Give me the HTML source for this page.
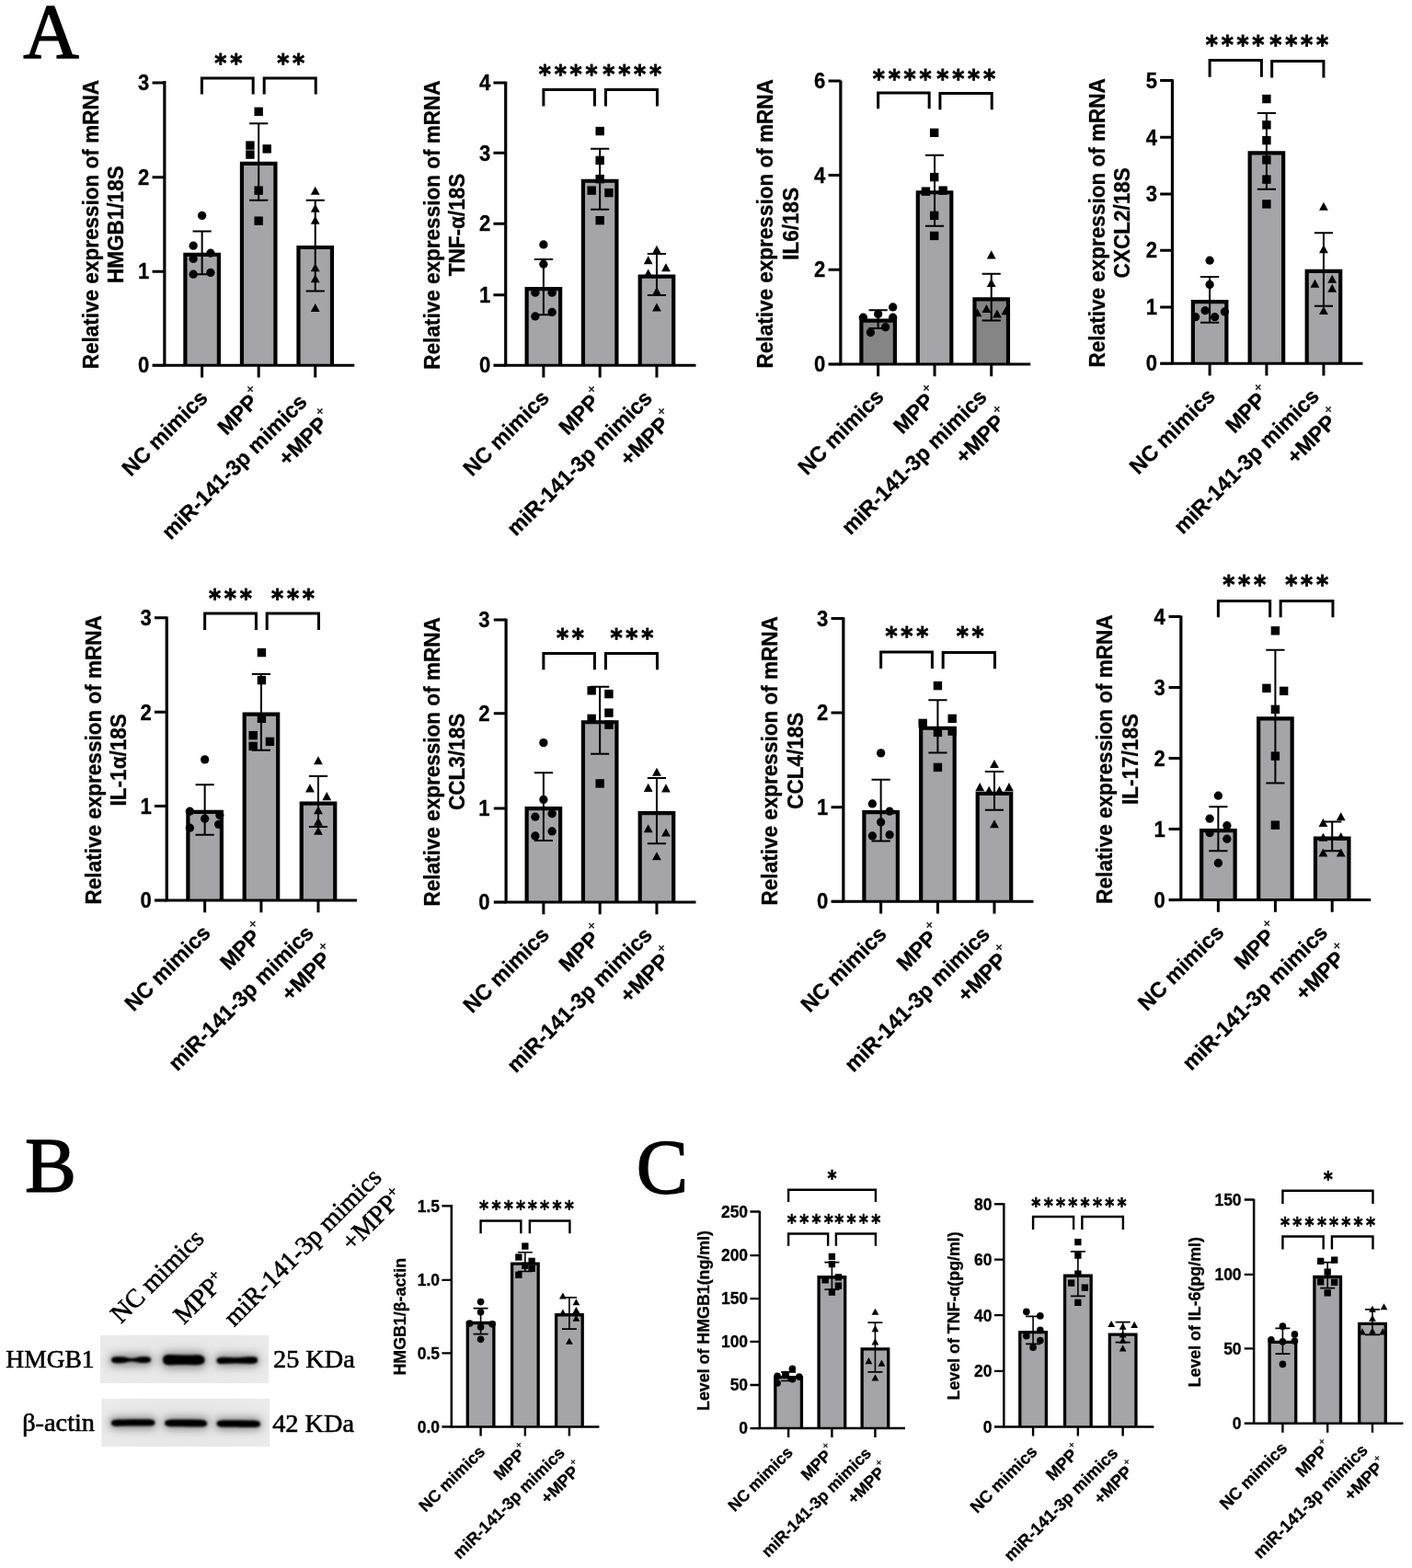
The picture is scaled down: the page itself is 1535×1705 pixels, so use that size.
<!DOCTYPE html>
<html lang="en">
<head>
<meta charset="utf-8">
<title>Figure: miR-141-3p mimics, MPP+ and inflammatory factors</title>
<style>
html,body{margin:0;padding:0;background:#fff}
body{width:1535px;height:1705px;overflow:hidden}
svg{display:block}
text{font-family:"Liberation Sans",Arial,Helvetica,sans-serif;font-weight:bold;fill:#000}
.big text{font-size:22.9px}
.small text{font-size:17.3px}
.bar{stroke:#000}
.big .bar{stroke-width:4.2}
.small .bar{stroke-width:3.3}
.ax,.tk,.er,.br{fill:none;stroke:#000}
.big .ax{stroke-width:3.2}.small .ax{stroke-width:2.5}
.big .tk{stroke-width:3.0}.small .tk{stroke-width:2.4}
.big .er{stroke-width:2.0}.small .er{stroke-width:1.6}
.big .br{stroke-width:3.0}.small .br{stroke-width:2.4}
.tl{text-anchor:end}
.yl{text-anchor:middle}
.xl{text-anchor:end}
.chart text.stx{font-family:"DejaVu Sans","Liberation Sans",sans-serif;text-anchor:middle}
.big text.stx{font-size:25.5px;letter-spacing:3.8px}
.small text.stx{font-size:19.5px;letter-spacing:3.35px}
.chart .sp{font-weight:normal}
.big .sp{font-size:14.5px}
.small .sp{font-size:11px}
text.pl{font-family:"Liberation Serif","Times New Roman",serif;font-size:84px;font-weight:normal;stroke:#000;stroke-width:1.4px;stroke-linejoin:round}
text.plc{font-size:84.5px}
.wb text{font-family:"Liberation Serif","Times New Roman",serif;font-weight:normal}
.wb text{stroke:#000;stroke-width:.6px}
.wb .wl{font-size:27.5px}
.wb .wl2{font-size:28.3px}
.wb .wr{font-size:28.3px}
.wb .ws{font-size:17px}
.big text.xl{font-size:23.6px}
.small text.xl{font-size:18.0px}
.big text.tl{font-size:23.0px}
.small text.tl{font-size:17.8px}
.big text.yl{font-size:23.2px}
.small text.yl{font-size:18.0px}
.chart text{stroke:#000;stroke-width:.3px}
.chart text.stx{stroke-width:.8px}
.small text.stx{stroke-width:.55px}
</style>
</head>
<body>
<svg xmlns="http://www.w3.org/2000/svg" width="1535" height="1705" viewBox="0 0 1535 1705">
<rect width="1535" height="1705" fill="#fff"/>
<g class="chart big" id="c1">
<path class="bar" d="M201.39 397.26V276.78H237.89V397.26" fill="#a5a4a8"/>
<path class="bar" d="M262.93 397.26V177.96H299.43V397.26" fill="#a5a4a8"/>
<path class="bar" d="M324.47 397.26V269.02H360.97V397.26" fill="#a5a4a8"/>
<path class="ax" d="M178.87 88.06V397.26H385.25"/>
<path class="ax" d="M165.57 397.26H178.87"/>
<path class="tk" d="M165.57 90.06H178.87M165.57 192.63H178.87M165.57 295.19H178.87"/>
<path class="tk" d="M219.64 397.26V410.46M281.18 397.26V410.46M342.72 397.26V410.46"/>
<text class="tl" transform="translate(162.37 98.29) scale(0.96 1)">3</text>
<text class="tl" transform="translate(162.37 200.86) scale(0.96 1)">2</text>
<text class="tl" transform="translate(162.37 303.43) scale(0.96 1)">1</text>
<text class="tl" transform="translate(162.37 405.49) scale(0.96 1)">0</text>
<path class="er" d="M209.54 251.41H229.74M209.54 298.19H229.74M219.64 251.41V298.19M271.08 134.34H291.28M271.08 217.64H291.28M281.18 134.34V217.64M332.62 217.64H352.82M332.62 316.46H352.82M342.72 217.64V316.46"/>
<circle cx="219.64" cy="234.4" r="4.65"/>
<circle cx="210.14" cy="267.17" r="4.65"/>
<circle cx="228.9" cy="275.18" r="4.65"/>
<circle cx="210.14" cy="281.43" r="4.65"/>
<circle cx="210.14" cy="298.19" r="4.65"/>
<circle cx="228.9" cy="296.44" r="4.65"/>
<rect x="276.48" y="116.63" width="9.4" height="9.4"/>
<rect x="267.23" y="153.4" width="9.4" height="9.4"/>
<rect x="285.49" y="157.16" width="9.4" height="9.4"/>
<rect x="267.23" y="163.41" width="9.4" height="9.4"/>
<rect x="276.48" y="202.43" width="9.4" height="9.4"/>
<rect x="276.48" y="235.46" width="9.4" height="9.4"/>
<path d="M342.72 202.83L347.62 211.84H337.82Z"/>
<path d="M342.72 221.84L347.62 230.86H337.82Z"/>
<path d="M342.72 234.85L347.62 243.86H337.82Z"/>
<path d="M342.72 286.13L347.62 295.15H337.82Z"/>
<path d="M342.72 298.14L347.62 307.16H337.82Z"/>
<path d="M342.72 329.91L347.62 338.93H337.82Z"/>
<path class="br" d="M219.39 102.57V85.06H275.18V102.57M287.19 102.57V85.06H343.22V102.57"/>
<text class="stx" transform="translate(250.16 78.08) scale(0.985 1.05)">**</text>
<text class="stx" transform="translate(318.08 78.08) scale(0.985 1.05)">**</text>
<text class="yl" transform="translate(107.07 244.16) rotate(-90) scale(0.972 1)">Relative expression of mRNA</text>
<text class="yl" transform="translate(134.47 244.16) rotate(-90) scale(0.972 1)">HMGB1/18S</text>
<text class="xl" transform="translate(227.04 434.06) rotate(-45) scale(0.985 1)">NC mimics</text>
<text class="xl" transform="translate(287.68 432.66) rotate(-45) scale(0.985 1)">MPP<tspan class="sp" dy="-13">+</tspan></text>
<text class="xl" transform="translate(335.22 438.36) rotate(-45) scale(0.985 1)">miR-141-3p mimics</text>
<text class="xl" transform="translate(363.32 456.86) rotate(-45) scale(0.985 1)">+MPP<tspan class="sp" dy="-13">+</tspan></text>
</g>
<g class="chart big" id="c2">
<path class="bar" d="M572.62 397.26V314.05H609.12V397.26" fill="#a5a4a8"/>
<path class="bar" d="M633.91 397.26V196.73H670.41V397.26" fill="#a5a4a8"/>
<path class="bar" d="M695.7 397.26V300.54H732.2V397.26" fill="#a5a4a8"/>
<path class="ax" d="M549.72 88.81V397.26H756.48"/>
<path class="ax" d="M536.42 397.26H549.72"/>
<path class="tk" d="M536.42 90.06H549.72M536.42 166.36H549.72M536.42 243.16H549.72M536.42 320.71H549.72"/>
<path class="tk" d="M590.87 397.26V410.46M652.16 397.26V410.46M713.95 397.26V410.46"/>
<text class="tl" transform="translate(533.22 98.29) scale(0.96 1)">4</text>
<text class="tl" transform="translate(533.22 174.59) scale(0.96 1)">3</text>
<text class="tl" transform="translate(533.22 251.39) scale(0.96 1)">2</text>
<text class="tl" transform="translate(533.22 328.94) scale(0.96 1)">1</text>
<text class="tl" transform="translate(533.22 405.49) scale(0.96 1)">0</text>
<path class="er" d="M580.77 281.93H600.97M580.77 342.22H600.97M590.87 281.93V342.22M642.06 161.86H662.26M642.06 227.65H662.26M652.16 161.86V227.65M703.85 275.93H724.05M703.85 320.96H724.05M713.95 275.93V320.96"/>
<circle cx="590.87" cy="265.92" r="4.65"/>
<circle cx="590.87" cy="287.19" r="4.65"/>
<circle cx="581.87" cy="318.21" r="4.65"/>
<circle cx="600.13" cy="318.21" r="4.65"/>
<circle cx="581.87" cy="343.97" r="4.65"/>
<circle cx="600.13" cy="339.47" r="4.65"/>
<rect x="647.46" y="137.89" width="9.4" height="9.4"/>
<rect x="647.46" y="169.66" width="9.4" height="9.4"/>
<rect x="647.46" y="189.93" width="9.4" height="9.4"/>
<rect x="638.46" y="202.43" width="9.4" height="9.4"/>
<rect x="657.22" y="204.94" width="9.4" height="9.4"/>
<rect x="647.46" y="234.96" width="9.4" height="9.4"/>
<path d="M713.95 266.87L718.85 275.89H709.05Z"/>
<path d="M704.7 278.13L709.6 287.14H699.8Z"/>
<path d="M723.96 286.13L728.86 295.15H719.06Z"/>
<path d="M704.7 292.39L709.6 301.4H699.8Z"/>
<path d="M713.95 311.9L718.85 320.91H709.05Z"/>
<path d="M713.95 329.41L718.85 338.43H709.05Z"/>
<path class="br" d="M590.87 115.58V97.44H646.41V115.58M658.42 115.58V97.44H714.45V115.58"/>
<text class="stx" transform="translate(619.51 89.59) scale(0.985 1.05)">****</text>
<text class="stx" transform="translate(689.06 89.59) scale(0.985 1.05)">****</text>
<text class="yl" transform="translate(477.92 244.53) rotate(-90) scale(0.972 1)">Relative expression of mRNA</text>
<text class="yl" transform="translate(505.32 244.53) rotate(-90) scale(0.972 1)">TNF-α/18S</text>
<text class="xl" transform="translate(598.27 434.06) rotate(-45) scale(0.985 1)">NC mimics</text>
<text class="xl" transform="translate(658.66 432.66) rotate(-45) scale(0.985 1)">MPP<tspan class="sp" dy="-13">+</tspan></text>
<text class="xl" transform="translate(710.45 434.36) rotate(-45) scale(0.985 1)">miR-141-3p mimics</text>
<text class="xl" transform="translate(734.55 456.86) rotate(-45) scale(0.985 1)">+MPP<tspan class="sp" dy="-13">+</tspan></text>
</g>
<g class="chart big" id="c3">
<path class="bar" d="M936.38 396.01V348.58H972.88V396.01" fill="#858585"/>
<path class="bar" d="M997.79 396.01V209.23H1034.29V396.01" fill="#a5a4a8"/>
<path class="bar" d="M1059.46 396.01V325.31H1095.96V396.01" fill="#858585"/>
<path class="ax" d="M913.85 87.56V396.01H1120.23"/>
<path class="ax" d="M900.55 396.01H913.85"/>
<path class="tk" d="M900.55 88.06H913.85M900.55 190.62H913.85M900.55 293.19H913.85"/>
<path class="tk" d="M954.63 396.01V409.21M1016.04 396.01V409.21M1077.71 396.01V409.21"/>
<text class="tl" transform="translate(897.35 96.29) scale(0.96 1)">6</text>
<text class="tl" transform="translate(897.35 198.86) scale(0.96 1)">4</text>
<text class="tl" transform="translate(897.35 301.42) scale(0.96 1)">2</text>
<text class="tl" transform="translate(897.35 404.24) scale(0.96 1)">0</text>
<path class="er" d="M944.53 337.22H964.73M944.53 356.98H964.73M954.63 337.22V356.98M1005.94 168.86H1026.14M1005.94 245.66H1026.14M1016.04 168.86V245.66M1067.61 297.69H1087.81M1067.61 348.48H1087.81M1077.71 297.69V348.48"/>
<circle cx="970.64" cy="333.97" r="4.65"/>
<circle cx="954.63" cy="341.47" r="4.65"/>
<circle cx="938.37" cy="345.22" r="4.65"/>
<circle cx="970.64" cy="345.22" r="4.65"/>
<circle cx="962.63" cy="355.73" r="4.65"/>
<circle cx="946.37" cy="361.49" r="4.65"/>
<rect x="1010.97" y="139.64" width="9.4" height="9.4"/>
<rect x="1010.97" y="187.93" width="9.4" height="9.4"/>
<rect x="1001.71" y="203.44" width="9.4" height="9.4"/>
<rect x="1020.47" y="202.43" width="9.4" height="9.4"/>
<rect x="1010.97" y="229.7" width="9.4" height="9.4"/>
<rect x="1010.97" y="251.72" width="9.4" height="9.4"/>
<path d="M1077.71 272.37L1082.61 281.39H1072.81Z"/>
<path d="M1077.71 302.89L1082.61 311.91H1072.81Z"/>
<path d="M1072.45 330.91L1077.35 339.93H1067.55Z"/>
<path d="M1083.96 336.41L1088.86 345.43H1079.06Z"/>
<path d="M1062.45 335.16L1067.35 344.18H1057.55Z"/>
<path d="M1093.47 333.16L1098.37 342.18H1088.57Z"/>
<path class="br" d="M954.63 118.33V101.07H1010.16V118.33M1021.92 119.33V101.57H1078.21V119.33"/>
<text class="stx" transform="translate(982.52 95.34) scale(0.985 1.05)">****</text>
<text class="stx" transform="translate(1052.06 95.34) scale(0.985 1.05)">****</text>
<text class="yl" transform="translate(840.45 243.28) rotate(-90) scale(0.972 1)">Relative expression of mRNA</text>
<text class="yl" transform="translate(867.85 243.28) rotate(-90) scale(0.972 1)">IL6/18S</text>
<text class="xl" transform="translate(962.03 432.81) rotate(-45) scale(0.985 1)">NC mimics</text>
<text class="xl" transform="translate(1022.54 431.41) rotate(-45) scale(0.985 1)">MPP<tspan class="sp" dy="-13">+</tspan></text>
<text class="xl" transform="translate(1074.21 433.11) rotate(-45) scale(0.985 1)">miR-141-3p mimics</text>
<text class="xl" transform="translate(1099.31 454.61) rotate(-45) scale(0.985 1)">+MPP<tspan class="sp" dy="-13">+</tspan></text>
</g>
<g class="chart big" id="c4">
<path class="bar" d="M1296.86 395.26V328.06H1333.36V395.26" fill="#a5a4a8"/>
<path class="bar" d="M1358.65 395.26V166.46H1395.15V395.26" fill="#a5a4a8"/>
<path class="bar" d="M1420.69 395.26V294.79H1457.19V395.26" fill="#a5a4a8"/>
<path class="ax" d="M1274.46 86.31V395.26H1481.47"/>
<path class="ax" d="M1261.16 395.26H1274.46"/>
<path class="tk" d="M1261.16 87.56H1274.46M1261.16 149.35H1274.46M1261.16 210.89H1274.46M1261.16 272.18H1274.46M1261.16 333.97H1274.46"/>
<path class="tk" d="M1315.11 395.26V408.46M1376.9 395.26V408.46M1438.94 395.26V408.46"/>
<text class="tl" transform="translate(1257.96 95.79) scale(0.96 1)">5</text>
<text class="tl" transform="translate(1257.96 157.58) scale(0.96 1)">4</text>
<text class="tl" transform="translate(1257.96 219.12) scale(0.96 1)">3</text>
<text class="tl" transform="translate(1257.96 280.41) scale(0.96 1)">2</text>
<text class="tl" transform="translate(1257.96 342.2) scale(0.96 1)">1</text>
<text class="tl" transform="translate(1257.96 403.49) scale(0.96 1)">0</text>
<path class="er" d="M1305.01 300.95H1325.21M1305.01 350.73H1325.21M1315.11 300.95V350.73M1366.8 123.08H1387M1366.8 205.63H1387M1376.9 123.08V205.63M1428.84 253.16H1449.04M1428.84 332.72H1449.04M1438.94 253.16V332.72"/>
<circle cx="1315.11" cy="283.18" r="4.65"/>
<circle cx="1315.11" cy="309.45" r="4.65"/>
<circle cx="1310.11" cy="337.72" r="4.65"/>
<circle cx="1331.37" cy="338.97" r="4.65"/>
<circle cx="1299.6" cy="344.72" r="4.65"/>
<circle cx="1320.62" cy="344.72" r="4.65"/>
<rect x="1372.2" y="102.87" width="9.4" height="9.4"/>
<rect x="1372.2" y="131.14" width="9.4" height="9.4"/>
<rect x="1372.2" y="147.9" width="9.4" height="9.4"/>
<rect x="1372.2" y="169.16" width="9.4" height="9.4"/>
<rect x="1372.2" y="190.43" width="9.4" height="9.4"/>
<rect x="1372.2" y="217.19" width="9.4" height="9.4"/>
<path d="M1438.94 219.84L1443.84 228.85H1434.04Z"/>
<path d="M1438.94 266.12L1443.84 275.13H1434.04Z"/>
<path d="M1448.2 298.64L1453.1 307.66H1443.3Z"/>
<path d="M1429.44 303.64L1434.34 312.66H1424.54Z"/>
<path d="M1448.2 308.65L1453.1 317.66H1443.3Z"/>
<path d="M1438.94 332.91L1443.84 341.93H1434.04Z"/>
<path class="br" d="M1315.11 83.8V65.54H1371.4V83.8M1382.66 84.56V66.54H1438.94V84.56"/>
<text class="stx" transform="translate(1344.5 58.32) scale(0.985 1.05)">****</text>
<text class="stx" transform="translate(1414.05 58.32) scale(0.985 1.05)">****</text>
<text class="yl" transform="translate(1200.66 242.28) rotate(-90) scale(0.972 1)">Relative expression of mRNA</text>
<text class="yl" transform="translate(1228.06 242.28) rotate(-90) scale(0.972 1)">CXCL2/18S</text>
<text class="xl" transform="translate(1322.51 432.06) rotate(-45) scale(0.985 1)">NC mimics</text>
<text class="xl" transform="translate(1383.4 430.66) rotate(-45) scale(0.985 1)">MPP<tspan class="sp" dy="-13">+</tspan></text>
<text class="xl" transform="translate(1435.44 432.36) rotate(-45) scale(0.985 1)">miR-141-3p mimics</text>
<text class="xl" transform="translate(1459.54 454.86) rotate(-45) scale(0.985 1)">+MPP<tspan class="sp" dy="-13">+</tspan></text>
</g>
<g class="chart big" id="c5">
<path class="bar" d="M204.39 979V882.79H240.89V979" fill="#a5a4a8"/>
<path class="bar" d="M265.68 979V776.72H302.18V979" fill="#a5a4a8"/>
<path class="bar" d="M327.73 979V873.53H364.23V979" fill="#a5a4a8"/>
<path class="ax" d="M181.24 670.55V979H388"/>
<path class="ax" d="M167.94 979H181.24"/>
<path class="tk" d="M167.94 671.8H181.24M167.94 774.37H181.24M167.94 876.44H181.24"/>
<path class="tk" d="M222.64 979V992.2M283.93 979V992.2M345.98 979V992.2"/>
<text class="tl" transform="translate(164.74 680.04) scale(0.96 1)">3</text>
<text class="tl" transform="translate(164.74 782.6) scale(0.96 1)">2</text>
<text class="tl" transform="translate(164.74 884.67) scale(0.96 1)">1</text>
<text class="tl" transform="translate(164.74 987.24) scale(0.96 1)">0</text>
<path class="er" d="M212.54 853.17H232.74M212.54 907.71H232.74M222.64 853.17V907.71M273.83 733.09H294.03M273.83 815.65H294.03M283.93 733.09V815.65M335.88 843.92H356.08M335.88 898.95H356.08M345.98 843.92V898.95"/>
<circle cx="222.64" cy="825.9" r="4.65"/>
<circle cx="206.38" cy="882.19" r="4.65"/>
<circle cx="222.64" cy="890.2" r="4.65"/>
<circle cx="238.91" cy="886.44" r="4.65"/>
<circle cx="206.38" cy="900.2" r="4.65"/>
<circle cx="237.65" cy="896.45" r="4.65"/>
<rect x="279.74" y="704.88" width="9.4" height="9.4"/>
<rect x="279.74" y="734.9" width="9.4" height="9.4"/>
<rect x="279.74" y="776.67" width="9.4" height="9.4"/>
<rect x="270.48" y="794.94" width="9.4" height="9.4"/>
<rect x="288.74" y="801.69" width="9.4" height="9.4"/>
<rect x="270.48" y="806.69" width="9.4" height="9.4"/>
<path d="M345.98 822.35L350.88 831.36H341.08Z"/>
<path d="M336.97 852.37L341.87 861.38H332.07Z"/>
<path d="M355.23 861.12L360.13 870.14H350.33Z"/>
<path d="M345.98 876.13L350.88 885.15H341.08Z"/>
<path d="M345.98 888.64L350.88 897.66H341.08Z"/>
<path d="M345.98 898.65L350.88 907.66H341.08Z"/>
<path class="br" d="M222.64 685.06V667.05H278.43V685.06M290.19 685.06V667.05H346.48V685.06"/>
<text class="stx" transform="translate(252.28 660.08) scale(0.985 1.05)">***</text>
<text class="stx" transform="translate(320.33 660.08) scale(0.985 1.05)">***</text>
<text class="yl" transform="translate(110.04 826.28) rotate(-90) scale(0.972 1)">Relative expression of mRNA</text>
<text class="yl" transform="translate(137.44 826.28) rotate(-90) scale(0.972 1)">IL-1α/18S</text>
<text class="xl" transform="translate(230.04 1015.8) rotate(-45) scale(0.985 1)">NC mimics</text>
<text class="xl" transform="translate(290.43 1014.4) rotate(-45) scale(0.985 1)">MPP<tspan class="sp" dy="-13">+</tspan></text>
<text class="xl" transform="translate(342.48 1016.1) rotate(-45) scale(0.985 1)">miR-141-3p mimics</text>
<text class="xl" transform="translate(366.58 1038.6) rotate(-45) scale(0.985 1)">+MPP<tspan class="sp" dy="-13">+</tspan></text>
</g>
<g class="chart big" id="c6">
<path class="bar" d="M572.62 981V879.04H609.12V981" fill="#a5a4a8"/>
<path class="bar" d="M633.91 981V785.23H670.41V981" fill="#a5a4a8"/>
<path class="bar" d="M695.7 981V884.04H732.2V981" fill="#a5a4a8"/>
<path class="ax" d="M550.1 672.8V981H756.48"/>
<path class="ax" d="M536.8 981H550.1"/>
<path class="tk" d="M536.8 674.05H550.1M536.8 775.87H550.1M536.8 878.94H550.1"/>
<path class="tk" d="M590.87 981V994.2M652.16 981V994.2M713.95 981V994.2"/>
<text class="tl" transform="translate(532.6 682.29) scale(0.96 1)">3</text>
<text class="tl" transform="translate(532.6 784.11) scale(0.96 1)">2</text>
<text class="tl" transform="translate(532.6 887.17) scale(0.96 1)">1</text>
<text class="tl" transform="translate(532.6 989.24) scale(0.96 1)">0</text>
<path class="er" d="M580.77 840.16H600.97M580.77 913.96H600.97M590.87 840.16V913.96M642.06 746.85H662.26M642.06 819.65H662.26M652.16 746.85V819.65M703.85 845.92H724.05M703.85 917.21H724.05M713.95 845.92V917.21"/>
<circle cx="590.87" cy="807.64" r="4.65"/>
<circle cx="590.87" cy="869.43" r="4.65"/>
<circle cx="600.13" cy="884.69" r="4.65"/>
<circle cx="581.87" cy="888.19" r="4.65"/>
<circle cx="600.13" cy="903.95" r="4.65"/>
<circle cx="581.87" cy="908.96" r="4.65"/>
<rect x="638.46" y="746.15" width="9.4" height="9.4"/>
<rect x="657.22" y="749.91" width="9.4" height="9.4"/>
<rect x="657.22" y="770.42" width="9.4" height="9.4"/>
<rect x="638.46" y="776.67" width="9.4" height="9.4"/>
<rect x="657.22" y="783.43" width="9.4" height="9.4"/>
<rect x="647.46" y="847.22" width="9.4" height="9.4"/>
<path d="M713.95 834.85L718.85 843.87H709.05Z"/>
<path d="M704.7 851.87L709.6 860.88H699.8Z"/>
<path d="M723.96 852.37L728.86 861.38H719.06Z"/>
<path d="M704.7 896.14L709.6 905.16H699.8Z"/>
<path d="M723.96 900.4L728.86 909.41H719.06Z"/>
<path d="M713.95 926.16L718.85 935.18H709.05Z"/>
<path class="br" d="M590.87 728.34V710.58H646.41V728.34M658.42 728.34V710.58H714.45V728.34"/>
<text class="stx" transform="translate(621.76 702.73) scale(0.985 1.05)">**</text>
<text class="stx" transform="translate(688.81 702.73) scale(0.985 1.05)">***</text>
<text class="yl" transform="translate(477.95 828.4) rotate(-90) scale(0.972 1)">Relative expression of mRNA</text>
<text class="yl" transform="translate(505.35 828.4) rotate(-90) scale(0.972 1)">CCL3/18S</text>
<text class="xl" transform="translate(598.27 1017.8) rotate(-45) scale(0.985 1)">NC mimics</text>
<text class="xl" transform="translate(658.66 1016.4) rotate(-45) scale(0.985 1)">MPP<tspan class="sp" dy="-13">+</tspan></text>
<text class="xl" transform="translate(710.45 1018.1) rotate(-45) scale(0.985 1)">miR-141-3p mimics</text>
<text class="xl" transform="translate(734.55 1040.6) rotate(-45) scale(0.985 1)">+MPP<tspan class="sp" dy="-13">+</tspan></text>
</g>
<g class="chart big" id="c7">
<path class="bar" d="M939.38 980.25V883.04H975.88V980.25" fill="#a5a4a8"/>
<path class="bar" d="M1001.17 980.25V791.73H1037.67V980.25" fill="#a5a4a8"/>
<path class="bar" d="M1062.71 980.25V862.78H1099.21V980.25" fill="#a5a4a8"/>
<path class="ax" d="M916.85 671.3V980.25H1123.49"/>
<path class="ax" d="M903.55 980.25H916.85"/>
<path class="tk" d="M903.55 672.55H916.85M903.55 775.12H916.85M903.55 877.69H916.85"/>
<path class="tk" d="M957.63 980.25V993.45M1019.42 980.25V993.45M1080.96 980.25V993.45"/>
<text class="tl" transform="translate(900.35 680.79) scale(0.96 1)">3</text>
<text class="tl" transform="translate(900.35 783.35) scale(0.96 1)">2</text>
<text class="tl" transform="translate(900.35 885.92) scale(0.96 1)">1</text>
<text class="tl" transform="translate(900.35 988.49) scale(0.96 1)">0</text>
<path class="er" d="M947.53 847.67H967.73M947.53 914.46H967.73M957.63 847.67V914.46M1009.32 761.36H1029.52M1009.32 818.4H1029.52M1019.42 761.36V818.4M1070.86 838.91H1091.06M1070.86 880.69H1091.06M1080.96 838.91V880.69"/>
<circle cx="957.63" cy="818.9" r="4.65"/>
<circle cx="948.37" cy="873.93" r="4.65"/>
<circle cx="967.13" cy="882.19" r="4.65"/>
<circle cx="957.63" cy="893.95" r="4.65"/>
<circle cx="948.37" cy="908.96" r="4.65"/>
<circle cx="967.13" cy="907.71" r="4.65"/>
<rect x="1014.72" y="740.9" width="9.4" height="9.4"/>
<rect x="1030.48" y="776.67" width="9.4" height="9.4"/>
<rect x="998.46" y="781.68" width="9.4" height="9.4"/>
<rect x="1014.72" y="791.68" width="9.4" height="9.4"/>
<rect x="1030.48" y="790.43" width="9.4" height="9.4"/>
<rect x="1014.72" y="829.71" width="9.4" height="9.4"/>
<path d="M1080.96 826.1L1085.86 835.12H1076.06Z"/>
<path d="M1065.2 851.12L1070.1 860.13H1060.3Z"/>
<path d="M1096.97 851.12L1101.87 860.13H1092.07Z"/>
<path d="M1075.21 854.87L1080.11 863.88H1070.31Z"/>
<path d="M1086.46 854.87L1091.36 863.88H1081.56Z"/>
<path d="M1080.96 891.14L1085.86 900.16H1076.06Z"/>
<path class="br" d="M957.63 727.09V709.08H1013.41V727.09M1025.17 727.34V709.58H1081.46V727.34"/>
<text class="stx" transform="translate(987.77 701.23) scale(0.985 1.05)">***</text>
<text class="stx" transform="translate(1056.56 701.23) scale(0.985 1.05)">**</text>
<text class="yl" transform="translate(845.45 827.28) rotate(-90) scale(0.972 1)">Relative expression of mRNA</text>
<text class="yl" transform="translate(872.85 827.28) rotate(-90) scale(0.972 1)">CCL4/18S</text>
<text class="xl" transform="translate(965.03 1017.05) rotate(-45) scale(0.985 1)">NC mimics</text>
<text class="xl" transform="translate(1025.92 1015.65) rotate(-45) scale(0.985 1)">MPP<tspan class="sp" dy="-13">+</tspan></text>
<text class="xl" transform="translate(1077.46 1017.35) rotate(-45) scale(0.985 1)">miR-141-3p mimics</text>
<text class="xl" transform="translate(1101.56 1039.85) rotate(-45) scale(0.985 1)">+MPP<tspan class="sp" dy="-13">+</tspan></text>
</g>
<g class="chart big" id="c8">
<path class="bar" d="M1306.12 978.5V903.05H1342.62V978.5" fill="#a5a4a8"/>
<path class="bar" d="M1368.16 978.5V781.47H1404.66V978.5" fill="#a5a4a8"/>
<path class="bar" d="M1429.95 978.5V911.56H1466.45V978.5" fill="#a5a4a8"/>
<path class="ax" d="M1283.84 669.55V978.5H1490.23"/>
<path class="ax" d="M1270.54 978.5H1283.84"/>
<path class="tk" d="M1270.54 670.55H1283.84M1270.54 747.6H1283.84M1270.54 824.4H1283.84M1270.54 901.45H1283.84"/>
<path class="tk" d="M1324.37 978.5V991.7M1386.41 978.5V991.7M1448.2 978.5V991.7"/>
<text class="tl" transform="translate(1266.74 678.79) scale(0.96 1)">4</text>
<text class="tl" transform="translate(1266.74 755.84) scale(0.96 1)">3</text>
<text class="tl" transform="translate(1266.74 832.64) scale(0.96 1)">2</text>
<text class="tl" transform="translate(1266.74 909.69) scale(0.96 1)">1</text>
<text class="tl" transform="translate(1266.74 986.74) scale(0.96 1)">0</text>
<path class="er" d="M1314.27 877.19H1334.47M1314.27 925.22H1334.47M1324.37 877.19V925.22M1376.31 706.83H1396.51M1376.31 851.42H1396.51M1386.41 706.83V851.42M1438.1 893.45H1458.3M1438.1 925.22H1458.3M1448.2 893.45V925.22"/>
<circle cx="1324.37" cy="865.18" r="4.65"/>
<circle cx="1315.11" cy="890.2" r="4.65"/>
<circle cx="1333.88" cy="897.7" r="4.65"/>
<circle cx="1315.11" cy="905.71" r="4.65"/>
<circle cx="1333.88" cy="912.21" r="4.65"/>
<circle cx="1324.37" cy="938.48" r="4.65"/>
<rect x="1381.71" y="681.11" width="9.4" height="9.4"/>
<rect x="1372.2" y="743.65" width="9.4" height="9.4"/>
<rect x="1390.97" y="746.66" width="9.4" height="9.4"/>
<rect x="1381.71" y="766.67" width="9.4" height="9.4"/>
<rect x="1381.71" y="817.45" width="9.4" height="9.4"/>
<rect x="1381.71" y="892.5" width="9.4" height="9.4"/>
<path d="M1457.71 883.14L1462.61 892.15H1452.81Z"/>
<path d="M1438.44 889.89L1443.34 898.91H1433.54Z"/>
<path d="M1438.44 905.65L1443.34 914.67H1433.54Z"/>
<path d="M1457.71 904.9L1462.61 913.92H1452.81Z"/>
<path d="M1438.44 922.41L1443.34 931.43H1433.54Z"/>
<path d="M1457.71 922.41L1462.61 931.43H1452.81Z"/>
<path class="br" d="M1324.37 671.3V653.54H1380.66V671.3M1392.16 671.3V653.54H1448.95V671.3"/>
<text class="stx" transform="translate(1354.51 645.32) scale(0.985 1.05)">***</text>
<text class="stx" transform="translate(1422.55 645.32) scale(0.985 1.05)">***</text>
<text class="yl" transform="translate(1209.44 825.53) rotate(-90) scale(0.972 1)">Relative expression of mRNA</text>
<text class="yl" transform="translate(1236.84 825.53) rotate(-90) scale(0.972 1)">IL-17/18S</text>
<text class="xl" transform="translate(1331.77 1015.3) rotate(-45) scale(0.985 1)">NC mimics</text>
<text class="xl" transform="translate(1392.91 1013.9) rotate(-45) scale(0.985 1)">MPP<tspan class="sp" dy="-13">+</tspan></text>
<text class="xl" transform="translate(1444.7 1015.6) rotate(-45) scale(0.985 1)">miR-141-3p mimics</text>
<text class="xl" transform="translate(1468.8 1038.1) rotate(-45) scale(0.985 1)">+MPP<tspan class="sp" dy="-13">+</tspan></text>
</g>
<g class="chart small" id="c9">
<path class="bar" d="M508.28 1551.43V1438.51H536.88V1551.43" fill="#a5a4a8"/>
<path class="bar" d="M556.56 1551.43V1374.22H585.16V1551.43" fill="#a5a4a8"/>
<path class="bar" d="M604.59 1551.43V1429.75H633.19V1551.43" fill="#a5a4a8"/>
<path class="ax" d="M490.81 1310.03V1551.43H651.41"/>
<path class="ax" d="M480.41 1551.43H490.81"/>
<path class="tk" d="M480.41 1311.28H490.81M480.41 1391.83H490.81M480.41 1471.38H490.81"/>
<path class="tk" d="M522.58 1551.43V1561.43M570.86 1551.43V1561.43M618.89 1551.43V1561.43"/>
<text class="tl" transform="translate(478.01 1317.65) scale(0.98 1)">1.5</text>
<text class="tl" transform="translate(478.01 1398.2) scale(0.98 1)">1.0</text>
<text class="tl" transform="translate(478.01 1477.75) scale(0.98 1)">0.5</text>
<text class="tl" transform="translate(478.01 1557.81) scale(0.98 1)">0.0</text>
<path class="er" d="M514.58 1422.6H530.58M514.58 1450.62H530.58M522.58 1422.6V1450.62M562.86 1361.81H578.86M562.86 1382.57H578.86M570.86 1361.81V1382.57M610.89 1410.84H626.89M610.89 1445.11H626.89M618.89 1410.84V1445.11"/>
<circle cx="522.58" cy="1415.59" r="3.8"/>
<circle cx="522.58" cy="1426.85" r="3.8"/>
<circle cx="510.57" cy="1439.11" r="3.8"/>
<circle cx="535.09" cy="1439.86" r="3.8"/>
<circle cx="522.58" cy="1443.11" r="3.8"/>
<circle cx="522.58" cy="1456.37" r="3.8"/>
<rect x="567.21" y="1351.41" width="7.3" height="7.3"/>
<rect x="560.21" y="1363.41" width="7.3" height="7.3"/>
<rect x="574.47" y="1367.67" width="7.3" height="7.3"/>
<rect x="567.21" y="1372.67" width="7.3" height="7.3"/>
<rect x="574.47" y="1375.67" width="7.3" height="7.3"/>
<rect x="560.21" y="1382.68" width="7.3" height="7.3"/>
<path d="M611.89 1405.4L615.79 1412.58H607.99Z"/>
<path d="M626.4 1412.16L630.3 1419.33H622.5Z"/>
<path d="M626.4 1420.91L630.3 1428.09H622.5Z"/>
<path d="M611.89 1423.41L615.79 1430.59H607.99Z"/>
<path d="M626.4 1429.67L630.3 1436.84H622.5Z"/>
<path d="M618.89 1454.68L622.79 1461.86H614.99Z"/>
<path class="br" d="M522.58 1341.3V1327.54H566.36V1341.3M575.86 1341.3V1327.54H619.39V1341.3"/>
<text class="stx" transform="translate(547.74 1322.33) scale(0.985 1.15)">****</text>
<text class="stx" transform="translate(600.43 1322.33) scale(0.985 1.15)">****</text>
<text class="yl" transform="translate(441.11 1431.73) rotate(-90) scale(0.99 1)">HMGB1/β-actin</text>
<text class="xl" style="font-size:18.1px" transform="translate(528.24 1579.59) rotate(-45) scale(0.99 1)">NC mimics</text>
<text class="xl" style="font-size:18.1px" transform="translate(575.83 1578.51) rotate(-45) scale(0.99 1)">MPP<tspan class="sp" dy="-9.95">+</tspan></text>
<text class="xl" style="font-size:18.1px" transform="translate(615.16 1580.87) rotate(-45) scale(0.99 1)">miR-141-3p mimics</text>
<text class="xl" style="font-size:18.1px" transform="translate(634.65 1597.03) rotate(-45) scale(0.99 1)">+MPP<tspan class="sp" dy="-9.95">+</tspan></text>
</g>
<g class="chart small" id="c10">
<path class="bar" d="M842.82 1553.09V1497.57H871.42V1553.09" fill="#a5a4a8"/>
<path class="bar" d="M890.1 1553.09V1388.75H918.7V1553.09" fill="#a5a4a8"/>
<path class="bar" d="M937.13 1553.09V1466.8H965.73V1553.09" fill="#a5a4a8"/>
<path class="ax" d="M825.84 1316.81V1553.09H983.95"/>
<path class="ax" d="M815.44 1553.09H825.84"/>
<path class="tk" d="M815.44 1317.56H825.84M815.44 1365.09H825.84M815.44 1412.12H825.84M815.44 1458.9H825.84M815.44 1505.93H825.84"/>
<path class="tk" d="M857.12 1553.09V1563.09M904.4 1553.09V1563.09M951.43 1553.09V1563.09"/>
<text class="tl" transform="translate(813.04 1323.93) scale(0.98 1)">250</text>
<text class="tl" transform="translate(813.04 1371.46) scale(0.98 1)">200</text>
<text class="tl" transform="translate(813.04 1418.49) scale(0.98 1)">150</text>
<text class="tl" transform="translate(813.04 1465.27) scale(0.98 1)">100</text>
<text class="tl" transform="translate(813.04 1512.3) scale(0.98 1)">50</text>
<text class="tl" transform="translate(813.04 1559.46) scale(0.98 1)">0</text>
<path class="er" d="M849.12 1491.92H865.12M849.12 1501.43H865.12M857.12 1491.92V1501.43M896.4 1372.59H912.4M896.4 1402.11H912.4M904.4 1372.59V1402.11M943.43 1438.14H959.43M943.43 1491.92H959.43M951.43 1438.14V1491.92"/>
<circle cx="861.37" cy="1488.42" r="3.8"/>
<circle cx="853.86" cy="1494.67" r="3.8"/>
<circle cx="845.11" cy="1496.42" r="3.8"/>
<circle cx="868.87" cy="1497.17" r="3.8"/>
<circle cx="861.37" cy="1499.68" r="3.8"/>
<circle cx="845.11" cy="1503.93" r="3.8"/>
<rect x="900.75" y="1362.69" width="7.3" height="7.3"/>
<rect x="900.75" y="1370.94" width="7.3" height="7.3"/>
<rect x="907.75" y="1385.2" width="7.3" height="7.3"/>
<rect x="893.49" y="1388.21" width="7.3" height="7.3"/>
<rect x="907.75" y="1394.46" width="7.3" height="7.3"/>
<rect x="900.75" y="1401.46" width="7.3" height="7.3"/>
<path d="M951.43 1422.69L955.33 1429.87H947.53Z"/>
<path d="M951.43 1440.95L955.33 1448.13H947.53Z"/>
<path d="M951.43 1455.21L955.33 1462.39H947.53Z"/>
<path d="M944.42 1475.97L948.32 1483.15H940.52Z"/>
<path d="M958.43 1478.48L962.33 1485.65H954.53Z"/>
<path d="M951.43 1494.24L955.33 1501.41H947.53Z"/>
<path class="br" d="M857.12 1354.83V1341.57H900.14V1354.83M908.9 1354.83V1341.57H951.93V1354.83M857.12 1307.05V1293.79H951.93V1307.05"/>
<text class="stx" transform="translate(882.53 1337.11) scale(0.985 1.15)">****</text>
<text class="stx" transform="translate(933.81 1337.11) scale(0.985 1.15)">****</text>
<text class="stx" transform="translate(906.05 1288.58) scale(0.985 1.15)">*</text>
<text class="yl" transform="translate(770.84 1435.95) rotate(-90) scale(0.99 1)">Level of HMGB1(ng/ml)</text>
<text class="xl" style="font-size:17.7px" transform="translate(862.78 1580.44) rotate(-45) scale(0.99 1)">NC mimics</text>
<text class="xl" style="font-size:17.7px" transform="translate(909.37 1579.37) rotate(-45) scale(0.99 1)">MPP<tspan class="sp" dy="-9.95">+</tspan></text>
<text class="xl" style="font-size:17.7px" transform="translate(948.19 1581.23) rotate(-45) scale(0.99 1)">miR-141-3p mimics</text>
<text class="xl" style="font-size:17.7px" transform="translate(967.19 1597.88) rotate(-45) scale(0.99 1)">+MPP<tspan class="sp" dy="-9.95">+</tspan></text>
</g>
<g class="chart small" id="c11">
<path class="bar" d="M1108.78 1551.46V1448.54H1137.38V1551.46" fill="#a5a4a8"/>
<path class="bar" d="M1157.56 1551.46V1387.25H1186.16V1551.46" fill="#a5a4a8"/>
<path class="bar" d="M1206.34 1551.46V1451.04H1234.94V1551.46" fill="#a5a4a8"/>
<path class="ax" d="M1091.31 1308.3V1551.46H1254.42"/>
<path class="ax" d="M1080.91 1551.46H1091.31"/>
<path class="tk" d="M1080.91 1309.3H1091.31M1080.91 1369.59H1091.31M1080.91 1430.13H1091.31M1080.91 1490.92H1091.31"/>
<path class="tk" d="M1123.08 1551.46V1561.46M1171.86 1551.46V1561.46M1220.64 1551.46V1561.46"/>
<text class="tl" transform="translate(1078.51 1315.67) scale(0.98 1)">80</text>
<text class="tl" transform="translate(1078.51 1375.96) scale(0.98 1)">60</text>
<text class="tl" transform="translate(1078.51 1436.5) scale(0.98 1)">40</text>
<text class="tl" transform="translate(1078.51 1497.29) scale(0.98 1)">20</text>
<text class="tl" transform="translate(1078.51 1557.83) scale(0.98 1)">0</text>
<path class="er" d="M1115.08 1431.38H1131.08M1115.08 1461.4H1131.08M1123.08 1431.38V1461.4M1163.86 1360.84H1179.86M1163.86 1409.37H1179.86M1171.86 1360.84V1409.37M1212.64 1437.64H1228.64M1212.64 1459.65H1228.64M1220.64 1437.64V1459.65"/>
<circle cx="1115.83" cy="1426.38" r="3.8"/>
<circle cx="1130.84" cy="1430.88" r="3.8"/>
<circle cx="1130.84" cy="1446.39" r="3.8"/>
<circle cx="1115.83" cy="1452.64" r="3.8"/>
<circle cx="1130.84" cy="1457.65" r="3.8"/>
<circle cx="1123.08" cy="1465.15" r="3.8"/>
<rect x="1168.21" y="1346.93" width="7.3" height="7.3"/>
<rect x="1168.21" y="1361.44" width="7.3" height="7.3"/>
<rect x="1168.21" y="1381.45" width="7.3" height="7.3"/>
<rect x="1160.96" y="1391.46" width="7.3" height="7.3"/>
<rect x="1175.72" y="1396.46" width="7.3" height="7.3"/>
<rect x="1168.21" y="1412.72" width="7.3" height="7.3"/>
<path d="M1208.14 1435.95L1212.04 1443.12H1204.24Z"/>
<path d="M1233.15 1436.7L1237.05 1443.88H1229.25Z"/>
<path d="M1220.64 1438.45L1224.54 1445.63H1216.74Z"/>
<path d="M1220.64 1447.21L1224.54 1454.38H1216.74Z"/>
<path d="M1220.64 1453.46L1224.54 1460.64H1216.74Z"/>
<path d="M1220.64 1462.22L1224.54 1469.39H1216.74Z"/>
<path class="br" d="M1123.08 1337.07V1323.06H1167.11V1337.07M1176.36 1337.07V1323.06H1220.89V1337.07"/>
<text class="stx" transform="translate(1148 1318.6) scale(0.985 1.15)">****</text>
<text class="stx" transform="translate(1201.28 1318.6) scale(0.985 1.15)">****</text>
<text class="yl" transform="translate(1042.56 1430.88) rotate(-90) scale(0.99 1)">Level of TNF-α(pg/ml)</text>
<text class="xl" style="font-size:18.4px" transform="translate(1128.74 1579.61) rotate(-45) scale(0.99 1)">NC mimics</text>
<text class="xl" style="font-size:18.4px" transform="translate(1176.83 1578.54) rotate(-45) scale(0.99 1)">MPP<tspan class="sp" dy="-9.95">+</tspan></text>
<text class="xl" style="font-size:18.4px" transform="translate(1216.41 1581.4) rotate(-45) scale(0.99 1)">miR-141-3p mimics</text>
<text class="xl" style="font-size:18.4px" transform="translate(1236.4 1597.05) rotate(-45) scale(0.99 1)">+MPP<tspan class="sp" dy="-9.95">+</tspan></text>
</g>
<g class="chart small" id="c12">
<path class="bar" d="M1380.11 1547.71V1459.3H1408.71V1547.71" fill="#a5a4a8"/>
<path class="bar" d="M1428.89 1547.71V1388.5H1457.49V1547.71" fill="#a5a4a8"/>
<path class="bar" d="M1477.67 1547.71V1439.29H1506.27V1547.71" fill="#a5a4a8"/>
<path class="ax" d="M1363.14 1303.8V1547.71H1525.49"/>
<path class="ax" d="M1352.74 1547.71H1363.14"/>
<path class="tk" d="M1352.74 1304.55H1363.14M1352.74 1385.85H1363.14M1352.74 1466.4H1363.14"/>
<path class="tk" d="M1394.41 1547.71V1557.71M1443.19 1547.71V1557.71M1491.97 1547.71V1557.71"/>
<text class="tl" transform="translate(1349.54 1310.92) scale(0.98 1)">150</text>
<text class="tl" transform="translate(1349.54 1392.22) scale(0.98 1)">100</text>
<text class="tl" transform="translate(1349.54 1472.78) scale(0.98 1)">50</text>
<text class="tl" transform="translate(1349.54 1554.08) scale(0.98 1)">0</text>
<path class="er" d="M1386.41 1444.39H1402.41M1386.41 1472.16H1402.41M1394.41 1444.39V1472.16M1435.19 1372.59H1451.19M1435.19 1400.61H1451.19M1443.19 1372.59V1400.61M1483.97 1423.88H1499.97M1483.97 1451.39H1499.97M1491.97 1423.88V1451.39"/>
<circle cx="1394.41" cy="1442.14" r="3.8"/>
<circle cx="1407.42" cy="1450.89" r="3.8"/>
<circle cx="1381.9" cy="1456.9" r="3.8"/>
<circle cx="1394.41" cy="1458.9" r="3.8"/>
<circle cx="1407.42" cy="1458.15" r="3.8"/>
<circle cx="1394.41" cy="1483.41" r="3.8"/>
<rect x="1432.04" y="1367.69" width="7.3" height="7.3"/>
<rect x="1447.05" y="1366.44" width="7.3" height="7.3"/>
<rect x="1439.54" y="1379.45" width="7.3" height="7.3"/>
<rect x="1432.04" y="1390.21" width="7.3" height="7.3"/>
<rect x="1447.05" y="1390.71" width="7.3" height="7.3"/>
<rect x="1439.54" y="1402.21" width="7.3" height="7.3"/>
<path d="M1504.48 1417.19L1508.38 1424.36H1500.58Z"/>
<path d="M1491.97 1419.69L1495.87 1426.86H1488.07Z"/>
<path d="M1491.97 1429.69L1495.87 1436.87H1488.07Z"/>
<path d="M1491.97 1443.45L1495.87 1450.63H1488.07Z"/>
<path d="M1480.96 1444.2L1484.86 1451.38H1477.06Z"/>
<path d="M1503.23 1444.2L1507.13 1451.38H1499.33Z"/>
<path class="br" d="M1394.41 1358.58V1344.57H1438.69V1358.58M1447.94 1358.58V1344.57H1492.47V1358.58M1394.41 1309.05V1294.79H1492.47V1309.05"/>
<text class="stx" transform="translate(1418.57 1339.61) scale(0.985 1.15)">****</text>
<text class="stx" transform="translate(1471.61 1339.61) scale(0.985 1.15)">****</text>
<text class="stx" transform="translate(1445.34 1290.33) scale(0.985 1.15)">*</text>
<text class="yl" transform="translate(1305.44 1426.75) rotate(-90) scale(0.99 1)">Level of IL-6(pg/ml)</text>
<text class="xl" style="font-size:18.5px" transform="translate(1400.37 1575.86) rotate(-45) scale(0.99 1)">NC mimics</text>
<text class="xl" style="font-size:18.5px" transform="translate(1448.66 1574.79) rotate(-45) scale(0.99 1)">MPP<tspan class="sp" dy="-9.95">+</tspan></text>
<text class="xl" style="font-size:18.5px" transform="translate(1487.93 1578.15) rotate(-45) scale(0.99 1)">miR-141-3p mimics</text>
<text class="xl" style="font-size:18.5px" transform="translate(1508.73 1593) rotate(-45) scale(0.99 1)">+MPP<tspan class="sp" dy="-9.95">+</tspan></text>
</g>
<text class="pl" x="25.2" y="62.6">A</text>
<text class="pl" x="27.0" y="1295.6">B</text>
<text class="pl plc" x="691.8" y="1298.0">C</text>
<g class="wb">
<defs>
<filter id="b1" x="-30%" y="-200%" width="160%" height="500%"><feGaussianBlur stdDeviation="0.95"/></filter>
<filter id="b2" x="-40%" y="-300%" width="180%" height="700%"><feGaussianBlur stdDeviation="4.2"/></filter>
<clipPath id="k1"><rect x="108.9" y="1451.6" width="183.5" height="52.7"/></clipPath>
<clipPath id="k2"><rect x="110.2" y="1520.7" width="183" height="52.6"/></clipPath>
<radialGradient id="bg" cx="50%" cy="50%" r="75%"><stop offset="0" stop-color="#e2e2e2"/><stop offset="1" stop-color="#ececec"/></radialGradient>
</defs>
<g clip-path="url(#k1)">
<rect x="108.9" y="1451.6" width="183.5" height="52.7" fill="url(#bg)"/>
<g filter="url(#b2)" fill="#7a7a7a" opacity=".8">
<rect x="119" y="1472.5" width="47" height="13" rx="6"/>
<rect x="175" y="1470" width="49.5" height="18" rx="8"/>
<rect x="234" y="1472.5" width="48" height="13.5" rx="6"/>
</g>
<g filter="url(#b1)" fill="#030303">
<path d="M121 1478.7C121 1475.2 125 1475.1 131 1475.3C137 1475.5 139 1476.9 143 1477C147 1477 150 1475.2 156 1475.2C161 1475.2 164.1 1475.6 164.1 1478.6C164.1 1481.9 160 1482 156 1482C150 1482 147 1480.5 143 1480.5C139 1480.6 136 1482.2 130 1482.2C125 1482.2 121 1482.3 121 1478.7Z"/>
<path d="M177 1478.6C177 1473.6 181 1472.7 187 1473.1C193 1473.6 205 1473.8 212 1473.3C218 1472.9 222.6 1474 222.6 1478.8C222.6 1483.6 218 1484.4 211 1484.2C204 1484 194 1483.6 187 1484.3C181 1484.8 177 1483.8 177 1478.6Z"/>
<path d="M235.5 1479.3C235.5 1476.3 239 1475.6 245 1475.8C251 1476 255 1476.6 261 1476C267 1475.4 271 1475.2 275 1475.3C278.5 1475.4 280.2 1476.4 280.2 1479.1C280.2 1482.4 277 1483 272 1482.9C266 1482.8 260 1482.3 254 1482.5C248 1482.7 244 1483.2 240 1483C237 1482.8 235.5 1482 235.5 1479.3Z"/>
</g>
</g>
<g clip-path="url(#k2)">
<rect x="110.2" y="1520.7" width="183" height="52.6" fill="url(#bg)"/>
<g filter="url(#b2)" fill="#7a7a7a" opacity=".8">
<rect x="119" y="1540.5" width="51" height="13.5" rx="6"/>
<rect x="177.5" y="1540.8" width="49.5" height="13.5" rx="6"/>
<rect x="234" y="1541.5" width="50.5" height="13.5" rx="6"/>
</g>
<g filter="url(#b1)" fill="#030303">
<path d="M120.9 1547.4C120.9 1544.2 124 1543.4 130 1543.4C140 1543.4 152 1543.1 160 1543.3C165.5 1543.4 168.5 1544.2 168.5 1547C168.5 1550.2 165 1550.7 159 1550.6C150 1550.5 140 1550.3 131 1550.8C125 1551.1 120.9 1550.8 120.9 1547.4Z"/>
<path d="M179.1 1547.5C179.1 1544.3 183 1543.6 189 1543.6C198 1543.6 208 1543.7 216 1543.7C221.5 1543.7 225.2 1544.6 225.2 1547.9C225.2 1551.2 221 1551.7 215 1551.6C207 1551.4 197 1551 189 1551.2C183 1551.3 179.1 1550.9 179.1 1547.5Z"/>
<path d="M235.5 1548C235.5 1545 239 1544.3 245 1544.3C254 1544.3 266 1544.5 274 1544.5C279.5 1544.5 283.1 1545.3 283.1 1548.5C283.1 1551.8 279 1552.2 273 1552.1C265 1552 254 1551.6 246 1551.8C240 1551.9 235.5 1551.4 235.5 1548Z"/>
</g>
</g>
<text class="wl" x="102.6" y="1486.9" text-anchor="end">HMGB1</text>
<text class="wl wl2" x="103" y="1555.6" text-anchor="end">β-actin</text>
<text class="wl wl2" x="297" y="1486.8">25 KDa</text>
<text class="wl wl2" x="296.2" y="1556.9">42 KDa</text>
<text class="wr" transform="translate(131.5 1440) rotate(-45)">NC mimics</text>
<text class="wr" transform="translate(200 1441) rotate(-45)">MPP<tspan class="ws" dy="-10">+</tspan></text>
<text class="wr" transform="translate(254.5 1443.5) rotate(-45)">miR-141-3p mimics</text>
<text class="wr" transform="translate(382.4 1361.5) rotate(-45)">+MPP<tspan class="ws" dy="-10">+</tspan></text>
</g>
</svg>
</body>
</html>
